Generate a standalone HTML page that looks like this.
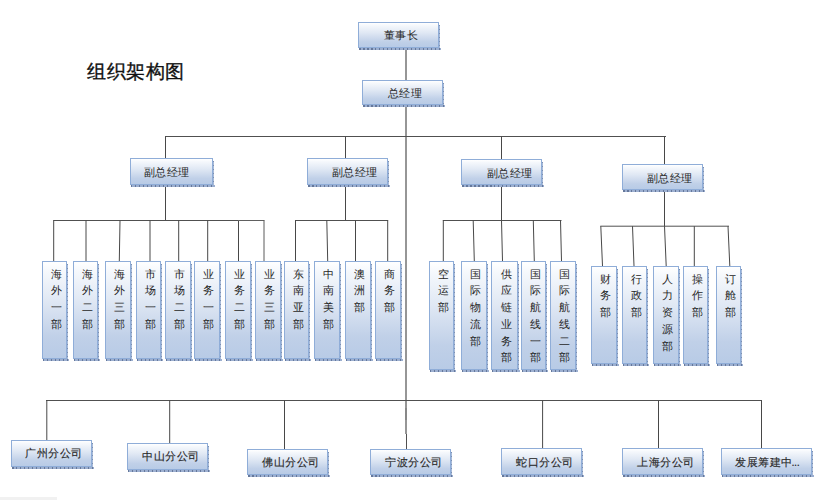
<!DOCTYPE html>
<html><head><meta charset="utf-8"><title>组织架构图</title>
<style>
html,body{margin:0;padding:0;background:#fff;}
body{width:831px;height:500px;position:relative;overflow:hidden;font-family:"Liberation Sans",sans-serif;}
.l{position:absolute;}
.b{position:absolute;box-sizing:border-box;border:1px solid #8fadd8;background:linear-gradient(#ffffff 0%,#f5f8fc 10%,#e0e8f4 40%,#c0d0e8 78%,#b8cbe6 100%);}
.b::before{content:'';position:absolute;left:0px;right:-3px;bottom:-3px;height:2px;background:repeating-linear-gradient(90deg,#65789b 0 1.5px,#9cafd0 1.5px 4px);}
.b::after{content:'';position:absolute;top:2px;bottom:-1px;right:-2px;width:1px;background:repeating-linear-gradient(180deg,#7b8fb1 0 1.5px,#a9bbd9 1.5px 4px);}
.t,.tb{position:absolute;font-size:11px;line-height:13px;color:#262626;white-space:nowrap;letter-spacing:0.3px;}
.tb{letter-spacing:0.6px;-webkit-text-stroke:0.15px #333;}
.v{position:absolute;font-size:11px;line-height:16.7px;color:#262626;text-align:center;}
.title{position:absolute;left:87px;top:60px;font-size:18.6px;letter-spacing:0.5px;line-height:24px;-webkit-text-stroke:0.35px #111;color:#111;}
.foot{position:absolute;left:0;top:497px;width:57px;height:3px;background:#f1f1f1;}
</style></head><body>
<div class="title">组织架构图</div>
<svg class="l" style="left:0;top:0" width="831" height="500"><line x1="406" y1="47" x2="406" y2="408" stroke="#969696" stroke-width="2"/><line x1="406" y1="408" x2="406" y2="420" stroke="#6a6a6a" stroke-width="1.6"/><line x1="406" y1="420" x2="406" y2="434" stroke="#969696" stroke-width="2"/><line x1="406.5" y1="434" x2="406.5" y2="449" stroke="#505050" stroke-width="1"/><line x1="165" y1="136.5" x2="666" y2="136.5" stroke="#505050" stroke-width="1"/><line x1="165.5" y1="136.5" x2="165.5" y2="159" stroke="#484848" stroke-width="1"/><line x1="345.5" y1="136.5" x2="345.5" y2="159" stroke="#484848" stroke-width="1"/><line x1="501.5" y1="136.5" x2="501.5" y2="160" stroke="#484848" stroke-width="1"/><line x1="664.5" y1="136.5" x2="664.5" y2="165" stroke="#484848" stroke-width="1"/><line x1="165.5" y1="185" x2="165.5" y2="220.5" stroke="#484848" stroke-width="1"/><line x1="53.2" y1="220.5" x2="238.5" y2="220.5" stroke="#505050" stroke-width="1"/><line x1="238.5" y1="220.5" x2="264.5" y2="220.5" stroke="#606060" stroke-width="1"/><line x1="53.7" y1="220.5" x2="53.7" y2="261" stroke="#484848" stroke-width="1"/><line x1="86" y1="220.5" x2="86" y2="261" stroke="#484848" stroke-width="1"/><line x1="120" y1="220.5" x2="119.3" y2="261" stroke="#484848" stroke-width="1"/><line x1="150" y1="220.5" x2="150" y2="261" stroke="#484848" stroke-width="1"/><line x1="178.7" y1="220.5" x2="178.7" y2="261" stroke="#484848" stroke-width="1"/><line x1="207.7" y1="220.5" x2="207.7" y2="261" stroke="#484848" stroke-width="1"/><line x1="238.5" y1="220.5" x2="238.5" y2="261" stroke="#484848" stroke-width="1"/><line x1="264" y1="220.5" x2="264" y2="261" stroke="#5a5a5a" stroke-width="1"/><line x1="345.5" y1="185" x2="345.5" y2="220.5" stroke="#484848" stroke-width="1"/><line x1="295" y1="220.5" x2="388.2" y2="220.5" stroke="#505050" stroke-width="1"/><line x1="295.5" y1="220.5" x2="295.5" y2="261" stroke="#484848" stroke-width="1"/><line x1="326.8" y1="220.5" x2="327.7" y2="261" stroke="#484848" stroke-width="1"/><line x1="355.5" y1="220.5" x2="355.5" y2="261" stroke="#484848" stroke-width="1"/><line x1="387.7" y1="220.5" x2="387.7" y2="261" stroke="#484848" stroke-width="1"/><line x1="501.5" y1="185" x2="501.5" y2="220.5" stroke="#484848" stroke-width="1"/><line x1="442.8" y1="220.5" x2="561.5" y2="220.5" stroke="#505050" stroke-width="1"/><line x1="443.3" y1="220.5" x2="443.3" y2="261" stroke="#484848" stroke-width="1"/><line x1="473.2" y1="220.5" x2="474.3" y2="261" stroke="#484848" stroke-width="1"/><line x1="501.5" y1="220.5" x2="502.5" y2="261" stroke="#484848" stroke-width="1"/><line x1="533.3" y1="220.5" x2="534.3" y2="261" stroke="#484848" stroke-width="1"/><line x1="560.5" y1="220.5" x2="561.5" y2="261" stroke="#484848" stroke-width="1"/><line x1="664.5" y1="190" x2="664.5" y2="226.2" stroke="#484848" stroke-width="1"/><line x1="600.3" y1="226.2" x2="729" y2="226.2" stroke="#505050" stroke-width="1"/><line x1="600.8" y1="226.2" x2="602.5" y2="266" stroke="#484848" stroke-width="1"/><line x1="632.5" y1="226.2" x2="634" y2="266" stroke="#484848" stroke-width="1"/><line x1="664.5" y1="226.2" x2="666.2" y2="266" stroke="#484848" stroke-width="1"/><line x1="694.3" y1="226.2" x2="694.3" y2="266" stroke="#484848" stroke-width="1"/><line x1="728" y1="226.2" x2="729.8" y2="266" stroke="#484848" stroke-width="1"/><line x1="46" y1="400.5" x2="762" y2="400.5" stroke="#505050" stroke-width="1"/><line x1="46.8" y1="400.5" x2="46.8" y2="440" stroke="#484848" stroke-width="1"/><line x1="169.7" y1="400.5" x2="169.7" y2="443" stroke="#484848" stroke-width="1"/><line x1="284.5" y1="400.5" x2="284.5" y2="449" stroke="#484848" stroke-width="1"/><line x1="542.6" y1="400.5" x2="542.6" y2="449" stroke="#484848" stroke-width="1"/><line x1="658.5" y1="400.5" x2="658.5" y2="449" stroke="#484848" stroke-width="1"/><line x1="761.5" y1="400.5" x2="761.5" y2="449" stroke="#484848" stroke-width="1"/></svg>
<div class="b" style="left:358px;top:22px;width:81px;height:26px"></div>
<div class="t" style="left:384px;top:29px">董事长</div>
<div class="b" style="left:362px;top:80px;width:81px;height:25px"></div>
<div class="t" style="left:388px;top:87px">总经理</div>
<div class="b" style="left:130px;top:158px;width:83px;height:27px"></div>
<div class="t" style="left:144px;top:166px">副总经理</div>
<div class="b" style="left:307px;top:158px;width:81px;height:27px"></div>
<div class="t" style="left:332px;top:166px">副总经理</div>
<div class="b" style="left:461px;top:159px;width:81px;height:26px"></div>
<div class="t" style="left:487px;top:167px">副总经理</div>
<div class="b" style="left:622px;top:164px;width:81px;height:26px"></div>
<div class="t" style="left:647px;top:172px">副总经理</div>
<div class="b" style="left:42px;top:261px;width:25px;height:98px"></div>
<div class="v" style="left:43.5px;top:265.7px;width:25px">海<br>外<br>一<br>部</div>
<div class="b" style="left:73px;top:261px;width:25px;height:98px"></div>
<div class="v" style="left:74.5px;top:265.7px;width:25px">海<br>外<br>二<br>部</div>
<div class="b" style="left:105px;top:261px;width:26px;height:98px"></div>
<div class="v" style="left:106.5px;top:265.7px;width:26px">海<br>外<br>三<br>部</div>
<div class="b" style="left:136px;top:261px;width:25px;height:98px"></div>
<div class="v" style="left:137.5px;top:265.7px;width:25px">市<br>场<br>一<br>部</div>
<div class="b" style="left:165px;top:261px;width:26px;height:98px"></div>
<div class="v" style="left:166.5px;top:265.7px;width:26px">市<br>场<br>二<br>部</div>
<div class="b" style="left:194px;top:261px;width:26px;height:98px"></div>
<div class="v" style="left:195.5px;top:265.7px;width:26px">业<br>务<br>一<br>部</div>
<div class="b" style="left:225px;top:261px;width:26px;height:98px"></div>
<div class="v" style="left:226.5px;top:265.7px;width:26px">业<br>务<br>二<br>部</div>
<div class="b" style="left:255px;top:261px;width:26px;height:98px"></div>
<div class="v" style="left:256.5px;top:265.7px;width:26px">业<br>务<br>三<br>部</div>
<div class="b" style="left:284px;top:261px;width:25px;height:98px"></div>
<div class="v" style="left:285.5px;top:265.7px;width:25px">东<br>南<br>亚<br>部</div>
<div class="b" style="left:314px;top:261px;width:26px;height:98px"></div>
<div class="v" style="left:315.5px;top:265.7px;width:26px">中<br>南<br>美<br>部</div>
<div class="b" style="left:345px;top:261px;width:26px;height:98px"></div>
<div class="v" style="left:346.5px;top:265.7px;width:26px">澳<br>洲<br>部</div>
<div class="b" style="left:375px;top:261px;width:26px;height:98px"></div>
<div class="v" style="left:376.5px;top:265.7px;width:26px">商<br>务<br>部</div>
<div class="b" style="left:429px;top:261px;width:25px;height:109px"></div>
<div class="v" style="left:430.5px;top:265.7px;width:25px">空<br>运<br>部</div>
<div class="b" style="left:461px;top:261px;width:26px;height:109px"></div>
<div class="v" style="left:462.5px;top:265.7px;width:26px">国<br>际<br>物<br>流<br>部</div>
<div class="b" style="left:491px;top:261px;width:27px;height:109px"></div>
<div class="v" style="left:492.5px;top:265.7px;width:27px">供<br>应<br>链<br>业<br>务<br>部</div>
<div class="b" style="left:521px;top:261px;width:25px;height:109px"></div>
<div class="v" style="left:522.5px;top:265.7px;width:25px">国<br>际<br>航<br>线<br>一<br>部</div>
<div class="b" style="left:550px;top:261px;width:26px;height:109px"></div>
<div class="v" style="left:551.5px;top:265.7px;width:26px">国<br>际<br>航<br>线<br>二<br>部</div>
<div class="b" style="left:591px;top:266px;width:26px;height:98px"></div>
<div class="v" style="left:592.5px;top:270.7px;width:26px">财<br>务<br>部</div>
<div class="b" style="left:622px;top:266px;width:25px;height:98px"></div>
<div class="v" style="left:623.5px;top:270.7px;width:25px">行<br>政<br>部</div>
<div class="b" style="left:653px;top:266px;width:26px;height:98px"></div>
<div class="v" style="left:654.5px;top:270.7px;width:26px">人<br>力<br>资<br>源<br>部</div>
<div class="b" style="left:683px;top:266px;width:25px;height:98px"></div>
<div class="v" style="left:684.5px;top:270.7px;width:25px">操<br>作<br>部</div>
<div class="b" style="left:716px;top:266px;width:25px;height:98px"></div>
<div class="v" style="left:717.5px;top:270.7px;width:25px">订<br>舱<br>部</div>
<div class="b" style="left:11px;top:440px;width:81px;height:27px"></div>
<div class="tb" style="left:25px;top:447px">广州分公司</div>
<div class="b" style="left:127px;top:443px;width:81px;height:27px"></div>
<div class="tb" style="left:142px;top:450px">中山分公司</div>
<div class="b" style="left:247px;top:449px;width:81px;height:26px"></div>
<div class="tb" style="left:262px;top:456px">佛山分公司</div>
<div class="b" style="left:370px;top:449px;width:81px;height:26px"></div>
<div class="tb" style="left:385px;top:456px">宁波分公司</div>
<div class="b" style="left:501px;top:448px;width:81px;height:27px"></div>
<div class="tb" style="left:516px;top:456px">蛇口分公司</div>
<div class="b" style="left:622px;top:448px;width:81px;height:27px"></div>
<div class="tb" style="left:637px;top:456px">上海分公司</div>
<div class="b" style="left:721px;top:448px;width:91px;height:27px"></div>
<div class="tb" style="left:735px;top:456px">发展筹建中<span style="letter-spacing:-0.4px;margin-left:-1.6px">...</span></div>
<div class="foot"></div>
</body></html>
